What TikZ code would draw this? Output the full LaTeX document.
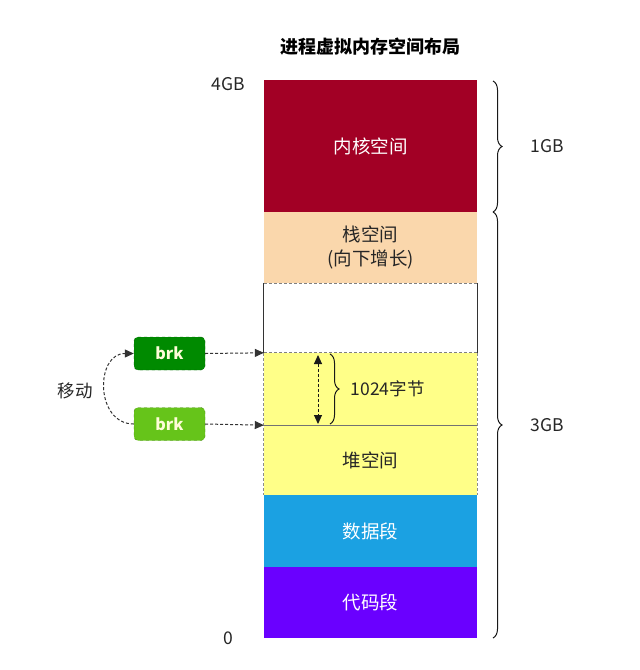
\documentclass[tikz,border=0pt]{standalone}
\usepackage{fontspec}
\setmainfont{Noto Sans CJK SC}
\usetikzlibrary{arrows.meta,decorations.pathreplacing}
\definecolor{kernelc}{HTML}{A20025}
\definecolor{stackc}{HTML}{FAD7AC}
\definecolor{heapc}{HTML}{FFFF88}
\definecolor{datac}{HTML}{1BA1E2}
\definecolor{codec}{HTML}{6A00FF}
\definecolor{brkdark}{HTML}{008A00}
\definecolor{brklight}{HTML}{66C41A}
\definecolor{linec}{HTML}{333333}
\tikzset{
  sec/.style={rectangle, minimum width=213pt, inner sep=0pt, align=center, font=\fontsize{18.5}{24}\selectfont},
  brkbox/.style={rectangle, rounded corners=4pt, minimum width=71pt, minimum height=33pt, dashed, draw=#1!70!black, fill=#1, text=white!85!yellow, font=\fontsize{16}{18}\selectfont\bfseries},
  dashconn/.style={densely dashed, line width=1pt, draw=linec, -{Triangle[length=9pt,width=8pt]}},
  lbl/.style={font=\fontsize{17.5}{20}\selectfont, text=black!85},
  bracec/.style={decorate, decoration={brace, amplitude=9pt}, line width=1pt, draw=black!90}
}
\begin{document}
\begin{tikzpicture}[x=1pt,y=-1pt]
\useasboundingbox[fill=white] (0,0) rectangle (640,670);
% title
\node[font=\fontsize{18}{20}\selectfont\bfseries] (title) at (370,47) {进程虚拟内存空间布局};
% sections
\node[sec, fill=kernelc, text=white, minimum height=132pt] (kern) at (370.5,146) {内核空间};
\node[sec, fill=stackc, text=black!85, minimum height=71pt] (stack) at (370.5,247.5) {栈空间\\(向下增长)};
\node[sec, fill=white, minimum height=70pt] (gap) at (370.5,318) {};
\node[sec, fill=heapc, minimum height=72pt] (heapa) at (370.5,389) {};
\node[sec, fill=heapc, text=black!85, minimum height=70pt] (heapb) at (370.5,460) {堆空间};
\node[sec, fill=datac, text=white, minimum height=72pt] (data) at (370.5,531) {数据段};
\node[sec, fill=codec, text=white, minimum height=71pt] (code) at (370.5,602.5) {代码段};
% borders
\draw[line width=0.9pt, draw=black!80] (gap.north west) -- (gap.south west) (gap.north east) -- (gap.south east);
\draw[densely dashed, draw=black!50, line width=0.7pt] (stack.south west) -- (stack.south east);
\draw[densely dashed, draw=black!50, line width=0.7pt] (heapa.north west) -- (heapa.north east);
\draw[densely dashed, draw=black!45, line width=0.7pt] (heapa.north west) -- (heapb.south west) (heapa.north east) -- (heapb.south east);
\draw[draw=black!55, line width=0.7pt] (heapa.south west) -- (heapa.south east);
% axis labels
\node[lbl] (top) at (228,84) {4GB};
\node[lbl] (zero) at (228,638) {0};
% right braces
\draw[bracec] (493,81) -- (493,212) node[midway, right=34pt, lbl] (g1) {1GB};
\draw[bracec] (493,212) -- (493,638) node[midway, right=34pt, lbl] (g3) {3GB};
% inner 1024 brace
\coordinate (ua) at (318,355);
\coordinate (ub) at (318,424);
\draw[densely dashed, line width=1pt, draw=black!90, {Triangle[length=9pt,width=8pt]}-{Triangle[length=9pt,width=8pt]}] (ua) -- (ub);
\draw[bracec] (330,354) -- (330,424) node[midway, right=17pt, lbl] (kb) {1024字节};
% brk boxes
\node[brkbox=brkdark] (brk1) at (169.5,353.5) {brk};
\node[brkbox=brklight] (brk2) at (169.5,424) {brk};
\draw[dashconn] (brk1.east) -- (heapa.north west);
\draw[dashconn] (brk2.east) -- (heapa.south west);
\draw[dashconn] (brk2.west) .. controls (95,424) and (95,353.5) .. (brk1.west);
\node[lbl] (move) at (75,391) {移动};
\end{tikzpicture}
\end{document}
